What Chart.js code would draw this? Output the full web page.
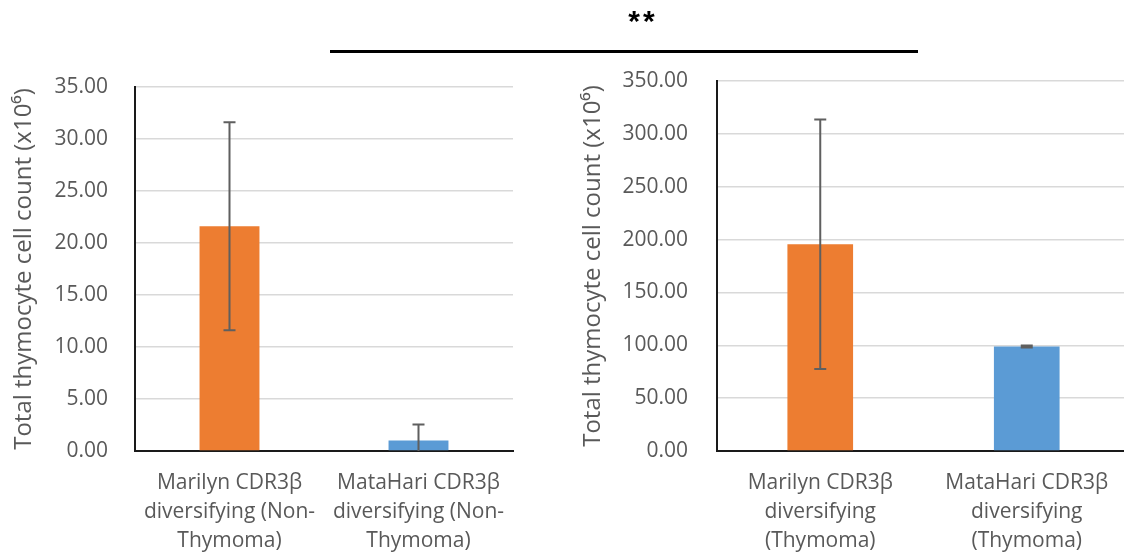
<!DOCTYPE html>
<html>
<head>
<meta charset="utf-8">
<script src="https://cdn.jsdelivr.net/npm/chart.js@4/dist/chart.umd.min.js"></script>
<style>
  html, body { margin:0; padding:0; background:#fff; width:1124px; height:554px; overflow:hidden; position:relative; }
  .box { position:absolute; top:0; }
  #sig { position:absolute; left:330px; top:50px; width:588px; height:3px; background:#000; }
  #stars { position:absolute; left:593px; width:100px; top:6px; text-align:center; font-family:"Liberation Sans", Arial, sans-serif; font-weight:bold; font-size:30px; line-height:30px; color:#000; letter-spacing:3px; }
</style>
</head>
<body>
<div class="box" style="left:0;width:520px;height:554px;"><canvas id="c1" width="520" height="554"></canvas></div>
<div class="box" style="left:560px;width:570px;height:554px;"><canvas id="c2" width="570" height="554"></canvas></div>
<div id="sig"></div>
<div id="stars">**</div>
<script>
// ---- data ----
const categoriesLeft = [["Marilyn CDR3β", "diversifying (Non-", "Thymoma)"], ["MataHari CDR3β", "diversifying (Non-", "Thymoma)"]];
const valuesLeft = [21.6, 1.0];
const errorsLeft = [10.0, 1.55];
const ticksLeft = [0, 5, 10, 15, 20, 25, 30, 35];

const categoriesRight = [["Marilyn CDR3β", "diversifying", "(Thymoma)"], ["MataHari CDR3β", "diversifying", "(Thymoma)"]];
const valuesRight = [195.5, 98.8];
const errorsRight = [118.0, 1.0];
const ticksRight = [0, 50, 100, 150, 200, 250, 300, 350];

const barColors = ["#ED7D31", "#5B9BD5"];
const yTitle = "Total thymocyte cell count (x10⁶)";

// ---- style ----
const FONT = "'Open Sans'";
const TEXT = "#595959";

const errorBars = {
  id: "errorBars",
  afterDatasetsDraw(chart, args, opts) {
    const ctx = chart.ctx;
    const y = chart.scales.y;
    const area = chart.chartArea;
    const meta = chart.getDatasetMeta(0);
    const errs = opts.errors;
    const vals = chart.data.datasets[0].data;
    ctx.save();
    ctx.beginPath();
    ctx.rect(area.left, area.top - 2, area.right - area.left, area.bottom - area.top + 2);
    ctx.clip();
    ctx.strokeStyle = "#5f5f5f";
    ctx.lineWidth = 2;
    meta.data.forEach((el, i) => {
      const x = el.x;
      const hi = y.getPixelForValue(vals[i] + errs[i]);
      const lo = y.getPixelForValue(vals[i] - errs[i]);
      ctx.beginPath();
      ctx.moveTo(x, hi); ctx.lineTo(x, lo);
      ctx.moveTo(x - 6, hi); ctx.lineTo(x + 6, hi);
      ctx.moveTo(x - 6, lo); ctx.lineTo(x + 6, lo);
      ctx.stroke();
    });
    ctx.restore();
  }
};

function makeChart(id, cats, vals, errs, ticks, opt) {
  return new Chart(document.getElementById(id), {
    type: "bar",
    data: {
      labels: cats,
      datasets: [{ data: vals, backgroundColor: barColors, borderWidth: 0, barPercentage: opt.barPct, categoryPercentage: 1 }]
    },
    plugins: [errorBars],
    options: {
      responsive: false,
      animation: false,
      devicePixelRatio: 1,
      layout: { padding: { top: opt.top, right: opt.right, bottom: 0, left: 0 } },
      plugins: { legend: { display: false }, tooltip: { enabled: false }, errorBars: { errors: errs } },
      scales: {
        x: {
          grid: { display: false },
          border: { display: true, color: "#1a1a1a", width: 2 },
          ticks: { color: TEXT, font: { family: FONT, size: 21, lineHeight: 1.4 }, padding: 9, maxRotation: 0, autoSkip: false },
          afterFit(s) { s.height = opt.xh; }
        },
        y: {
          min: 0, max: ticks[ticks.length - 1],
          afterBuildTicks(s) { s.ticks = ticks.map(v => ({ value: v })); },
          grid: { color: "#d9d9d9", lineWidth: 1.5, drawTicks: false },
          border: { display: true, color: "#1a1a1a", width: 2 },
          ticks: { color: TEXT, font: { family: FONT, size: 21 }, padding: opt.tickPad, callback: v => Number(v).toFixed(2) },
          title: { display: true, text: yTitle, color: TEXT, font: { family: FONT, size: 24 }, padding: { top: opt.titlePad, bottom: 0 } },
          afterFit(s) { s.width = opt.yw; }
        }
      }
    }
  });
}

makeChart("c1", categoriesLeft, valuesLeft, errorsLeft, ticksLeft,
  { top: 87, right: 7, xh: 103, yw: 135, barPct: 0.317, tickPad: 27, titlePad: 10 });
makeChart("c2", categoriesRight, valuesRight, errorsRight, ticksRight,
  { top: 81, right: 0, xh: 103, yw: 157, barPct: 0.318, tickPad: 29, titlePad: 19 });
</script>
</body>
</html>
